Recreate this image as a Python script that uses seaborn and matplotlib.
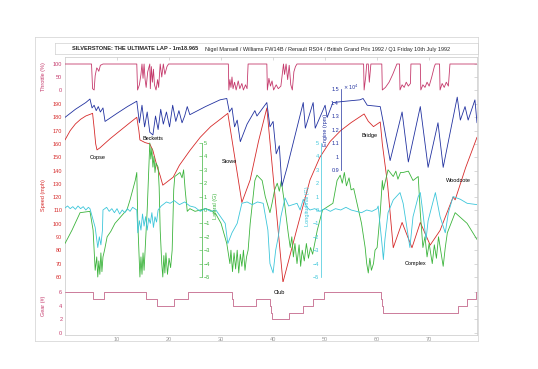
import matplotlib
matplotlib.use("Agg")
import matplotlib.pyplot as plt
import seaborn as sns
import numpy as np

sns.set_style("white")
plt.rcParams['font.family'] = ['Liberation Sans', 'DejaVu Sans']

# ---------------- data (time in s) ----------------
thr_t = [0, 5.1, 5.3, 5.6, 5.8, 6.1, 6.3, 6.5, 6.8, 7.3,
         13.8, 13.95, 14.3, 14.6, 14.8, 15.0, 15.2, 15.4, 15.6, 15.9, 16.3, 16.4, 16.6, 16.8, 17.0, 17.2,
         17.5, 17.8, 18.0, 18.3, 18.6, 18.9, 19.2, 19.6, 19.9,
         31.4, 31.5, 31.7, 31.9, 32.1, 32.3, 32.6, 32.9, 33.3, 33.6, 34.0, 34.3, 34.7, 35.0, 35.2,
         38.8, 38.9, 39.2, 39.5, 39.8, 40.1, 40.6, 41.0, 41.5, 42.0, 42.2, 42.5, 42.8, 43.1, 43.4, 43.7,
         44.0, 44.3, 44.6,
         57.4, 57.5, 57.8, 58.0, 58.3, 58.5, 58.8, 60.9, 61.0, 61.6, 62.3, 63.0, 63.8, 64.3, 64.4, 64.8,
         65.2, 65.6, 66.0, 66.4, 66.5, 68.3, 68.4, 68.8, 69.2, 69.6, 70.0, 70.5, 71.0, 71.2, 72.0, 72.1,
         72.5, 72.9, 73.3, 73.7, 74.0, 79.2]
thr_v = [100, 100, 5, 0, 55, 85, 80, 72, 95, 100,
         100, 0, 20, 60, 100, 45, 100, 40, 10, 70, 100, 5, 90, 30, 80, 20,
         0, 40, 10, 100, 50, 100, 60, 90, 100,
         100, 0, 40, 10, 50, 5, 30, 0, 35, 5, 25, 0, 20, 5, 100,
         100, 0, 45, 15, 35, 0, 20, 5, 15, 100, 60, 100, 40, 95, 20, 0,
         70, 90, 100,
         100, 0, 50, 100, 100, 30, 100, 100, 0, 10, 30, 60, 100, 100, 0, 20,
         10, 30, 15, 25, 100, 100, 0, 20, 10, 30, 15, 50, 90, 100, 100, 0,
         25, 10, 30, 15, 100, 100]

spd_t = [0, 1, 2, 3, 4, 5.0, 5.3, 5.6, 5.9, 6.15, 6.7, 7.7, 8.7, 10.6, 12.5, 13.8,
         14.2, 14.4, 15.4, 16.3, 16.9, 17.7, 18.3, 18.8, 19.8, 20.8, 22.0, 24.0, 26.0, 28.0, 30.0, 31.3,
         34.0, 35.6, 37.2, 38.8, 41.9, 44.5, 47.1, 49.0, 51.0, 53.0, 55.0, 57.5, 58.3, 59.3, 60.6,
         61.0, 62.0, 63.1, 64.8, 66.7, 68.3, 70.2, 72.1, 74.6, 75.0, 77.0, 79.2]
spd_v = [163, 170, 175, 178.5, 181, 182.5, 183, 172, 160, 155.5, 157, 160.5, 164, 170, 176, 180,
         170, 163, 161, 160, 155, 143, 136, 129, 132, 135, 144, 155, 165, 173, 179, 183,
         116, 133, 162, 187, 56, 95, 133, 150, 162, 170, 176, 182.5, 177, 173, 176.5,
         160, 130, 82, 101, 82, 101, 84, 95, 120, 118, 142, 165]

rpm_t = [0, 2, 4, 4.8, 5.2, 5.6, 6.0, 6.4, 6.8, 7.3, 7.7, 10, 12, 13.8,
         14.3, 14.8, 15.3, 15.8, 16.3, 16.9, 17.4, 17.9, 18.4, 18.9, 19.5, 20.1, 20.7, 21.3, 21.9, 22.5,
         23.0, 23.5, 24.0, 27, 29.8, 31.1,
         31.6, 32.1, 32.6, 33.1, 33.7, 35.0, 36.5, 36.9, 38.8, 39.4, 40.0, 40.6, 41.2, 41.7, 42.7,
         45.8, 46.2, 47.7, 48.1, 50.0, 50.4, 51.5, 54, 56.7, 57.3, 58.1, 60.6, 61.2, 62.5, 64.8, 66.0,
         68.3, 69.8, 71.7, 72.7, 75.4, 76.0, 76.9, 77.5, 78.8, 79.2]
rpm_v = [1.29, 1.35, 1.40, 1.426, 1.36, 1.38, 1.34, 1.37, 1.33, 1.36, 1.26, 1.32, 1.37, 1.41,
         1.25, 1.38, 1.22, 1.33, 1.18, 1.16, 1.30, 1.20, 1.35, 1.24, 1.33, 1.22, 1.38, 1.26, 1.34, 1.25,
         1.30, 1.37, 1.31, 1.37, 1.42, 1.43,
         1.33, 1.36, 1.22, 1.27, 1.11, 1.24, 1.34, 1.30, 1.40, 1.22, 1.26, 1.02, 1.08, 0.78, 0.92,
         1.40, 1.21, 1.40, 1.21, 1.38, 1.29, 1.40, 1.41, 1.42, 1.43, 1.38, 1.37, 1.25, 0.97, 1.33, 0.96,
         1.37, 0.92, 1.25, 0.92, 1.44, 1.27, 1.37, 1.27, 1.42, 1.25]

gear_t = [0, 5.4, 7.5, 15.6, 17.7, 21.0, 23.7, 32.1, 32.3, 36.7, 39.4, 39.6, 39.8, 40.0, 43.0,
          45.8, 47.7, 49.8, 60.8, 61.0, 61.2, 75.6, 77.3, 79.1, 79.2]
gear_v = [6, 5, 6, 5, 4, 5, 6, 5, 4, 5, 4, 3, 2, 2, 3,
          4, 5, 6, 5, 4, 3, 4, 5, 6, 6]

lat_t = [0, 1.35, 2.9, 4.8, 5.4, 5.8, 6.1, 6.3, 6.5, 6.7, 6.9, 7.1, 7.3, 7.6, 8.1, 8.8, 9.6, 10.5, 11.4,
         11.9, 12.5, 13.5, 13.8, 14.0, 14.4, 14.6, 14.8, 15.0, 15.2, 15.8, 16.3, 16.5, 16.7, 16.9, 17.1,
         17.3, 17.5, 17.9, 18.1, 18.3, 18.6, 18.8, 19.0, 19.2, 19.4, 19.7, 20.0, 20.3, 20.6, 20.9, 21.1,
         22.1, 22.5, 22.8, 23.1, 23.5, 24, 25, 26, 27, 27.9, 29, 30, 31.1, 31.7, 31.9, 32.2, 32.5, 32.8,
         33.1, 33.4, 33.7, 34.0, 34.3, 34.6, 34.9, 35.2, 35.6, 36.5, 36.9, 37.9, 38.5, 39.4, 39.8, 40.3,
         40.8, 41.2, 41.6, 41.9, 42.2, 42.9, 43.3, 43.6, 43.9, 44.2, 44.6, 45.0, 45.3, 45.6, 46.0, 46.4,
         46.8, 47.2, 47.6, 48.5, 49.5, 51.5, 52.3, 52.9, 53.3, 53.7, 54.1, 54.6, 55.0, 55.5, 56.3, 57.0,
         57.7, 58.0, 58.3, 58.6, 58.9, 59.3, 59.6, 60.0, 60.6, 61.0, 61.2, 62.1, 63.1, 63.6, 64.0, 64.5,
         65.0, 66.0, 66.9, 67.9, 68.3, 68.8, 69.2, 69.6, 70.0, 70.2, 70.6, 71.0, 71.4, 71.8, 72.2, 72.7,
         73.1, 73.5, 75.0, 77.3, 79.2]
lat_v = [-2.5, -1.5, -0.2, -0.1, -1.5, -4.5, -3.5, -5.0, -3.8, -4.8, -3.2, -4.6, -3.5, -3.0, -2.0, -1.6,
         -1.0, -0.6, -0.2, 0.0, 0.75, 2.2, 2.8, -1.0, -5.0, -3.5, -4.8, -3.2, -4.5, 0.0, 5.0, 3.8, 4.6,
         3.2, 4.0, 2.8, 3.5, 3.2, 1.7, -1.5, -4.0, -5.0, -3.4, -4.7, -3.2, -4.8, -3.6, -4.3, -3.0, 1.5,
         2.5, 2.8, 2.4, 3.0, 1.5, -0.1, 0.1, -0.1, 0.0, 0.1, 0.0, -0.3, -1.0, -2.5, -4.0, -3.0, -4.6,
         -3.2, -4.4, -3.0, -4.7, -3.3, -4.2, -3.0, -4.5, -3.5, -3.0, -1.0, 2.2, 2.6, 2.2, 1.0, -0.2, 0.5,
         1.5, 2.0, 1.4, 2.2, 1.3, 0.5, -1.7, -2.8, -2.0, -3.5, -2.5, -4.0, -2.6, -4.2, -3.0, -3.8, -2.5,
         -3.6, -2.8, -3.3, -1.5, 0.0, 0.5, 2.2, 2.6, 2.0, 2.8, 1.8, 2.4, 1.5, 1.6, 0.2, -1.0, -2.8, -4.0,
         -4.7, -3.6, -4.5, -4.0, -3.0, -2.8, -0.2, 2.2, 1.5, 3.0, 2.5, 2.9, 2.3, 2.8, 2.8, 2.9, 2.2, 2.5,
         -0.2, -2.8, -2.0, -3.5, -2.5, -3.0, -4.0, -2.6, -3.6, -2.0, -3.0, -4.2, -2.8, -1.7, -0.2, -1.0,
         -2.2]

lon_t = [0, 0.5, 1, 1.5, 2, 2.5, 3, 3.5, 4, 4.5, 4.8, 5.8, 6.3, 6.6, 6.9, 7.2, 7.3, 8, 8.5, 9, 9.5, 10,
         10.5, 11, 11.5, 12, 12.5, 13, 13.8, 14.0, 14.3, 14.6, 14.9, 15.2, 15.5, 15.8, 16.1, 16.4, 16.7,
         17.0, 17.3, 17.6, 17.9, 18.5, 19.5, 20.2, 21, 22, 23, 24, 25, 26, 27, 28, 29, 30.8, 31.3, 32.1,
         33.1, 34.0, 35.0, 36, 37, 38.1, 39.0, 39.4, 40.0, 40.5, 41.0, 41.5, 42.3, 43, 44.6, 45.2, 45.8,
         46.5, 47.1, 48, 49, 50, 51, 52, 53, 54, 55, 56, 57, 58, 59, 60, 60.2, 61.0, 61.2, 61.5, 62.1,
         63.1, 64.4, 65.0, 65.6, 66.3, 66.9, 67.9, 68.3, 68.8, 69.4, 69.8, 71.2, 72.1, 73.1, 73.7, 74.6,
         76.0, 77.3, 79.2]
lon_v = [0.15, 0.3, 0.1, 0.25, 0.05, 0.3, 0.1, 0.25, 0.0, 0.2, 0.1, -1.3, -2.8, -2.0, -2.6, -1.5, 0.0,
         0.2, -0.1, 0.1, -0.2, 0.1, -0.3, 0.0, -0.2, 0.1, -0.1, 0.2, 0.0, -1.7, -0.8, -1.5, -0.3, -1.2,
         -0.5, -1.5, -0.6, -1.0, -0.2, -1.3, -0.5, -0.9, 0.0, 0.3, 0.6, 0.5, 0.7, 0.4, 0.6, 0.3, 0.2,
         -0.1, 0.1, -0.1, 0.0, -1.0, -2.5, -1.7, -1.0, 0.5, 0.6, 0.4, 0.6, 0.5, -1.5, -4.0, -4.7, -3.0,
         -2.0, -0.5, 0.9, 0.3, 0.5, 0.0, 0.8, 0.2, 0.0, 0.1, -0.1, 0.1, -0.1, 0.1, 0.0, 0.2, 0.0, -0.1,
         -0.2, 0.0, -0.1, 0.1, 0.3, -2.8, -3.7, -2.2, -0.2, 0.75, 1.3, 0.5, -1.0, -2.8, -0.5, 1.0, 1.3,
         -0.2, -2.2, -0.8, 1.3, -0.5, -1.7, -0.2, 1.0, 0.8, 0.5, 0.4]

corner_names = ["Copse", "Becketts", "Stowe", "Club", "Bridge", "Woodcote", "Complex"]
corner_px = [(98, 157), (153, 139), (229, 161), (279, 292), (369, 135), (458, 181), (416, 264)]

xticks = [10, 20, 30, 40, 50, 60, 70]
title_left = "SILVERSTONE: THE ULTIMATE LAP - 1m18.965"
title_right = "Nigel Mansell / Williams FW14B / Renault RS04 / British Grand Prix 1992 / Q1 Friday 10th July 1992"

# ---------------- layout helpers ----------------
W, H = 538, 369
fig = plt.figure(figsize=(W / 100, H / 100), dpi=100)
fig.patch.set_facecolor('white')

def rect(x0, y0, x1, y1):
    return [x0 / W, 1 - y1 / H, (x1 - x0) / W, (y1 - y0) / H]

X0, X1 = 65, 477
XMAX = 79.2
def t_of(px):
    return (px - X0) / (X1 - X0) * XMAX

C_THR = '#c53a6c'
C_GEAR = '#c4668a'
C_SPD = '#d62a2a'
C_RPM = '#2232a0'
C_LAT = '#3cb43c'
C_LON = '#3cc6da'
FS = 4.0
LW = 0.6

# outer light frame
frame = fig.add_axes(rect(35, 37, 478, 341))
frame.set_xticks([]); frame.set_yticks([])
frame.patch.set_alpha(0)
for s in frame.spines.values():
    s.set_color('#d8d8d8'); s.set_linewidth(0.6)

# title box
tbox = fig.add_axes(rect(55, 43, 478, 54))
tbox.set_xticks([]); tbox.set_yticks([])
tbox.patch.set_alpha(0)
for s in tbox.spines.values():
    s.set_color('#d0d0d0'); s.set_linewidth(0.5)
fig.text(72 / W, 1 - 49 / H, title_left, fontsize=4.1, fontweight='bold', va='center', ha='left')
fig.text(205 / W, 1 - 49 / H, title_right, fontsize=4.0, va='center', ha='left')

# base axes with x ticks
base = fig.add_axes(rect(X0, 57, X1, 335))
base.set_xlim(0, XMAX)
base.set_ylim(0, 1)
base.set_yticks([])
base.set_xticks(xticks)
base.tick_params(axis='x', direction='in', length=2, width=0.4, labelsize=FS, labelcolor='#9a9a9a',
                 color='#bbbbbb', top=True, pad=1.5)
for s in base.spines.values():
    s.set_color('#c8c8c8'); s.set_linewidth(0.5)
base.patch.set_facecolor('white')

def overlay(y0, y1, ylim):
    ax = fig.add_axes(rect(X0, y0, X1, y1))
    ax.set_xlim(0, XMAX)
    ax.set_ylim(*ylim)
    ax.patch.set_alpha(0)
    for s in ax.spines.values():
        s.set_visible(False)
    ax.set_xticks([])
    ax.set_xlabel(''); ax.set_ylabel('')
    return ax

def line(ax, t, v, color, **kw):
    sns.lineplot(x=t, y=v, ax=ax, color=color, linewidth=LW, estimator=None, sort=False, **kw)
    ax.set_xlabel(''); ax.set_ylabel('')
    ax.set_xlim(0, XMAX)

# gear
ax_g = overlay(285, 335, (-0.29, 7.03))
line(ax_g, gear_t, gear_v, C_GEAR, drawstyle='steps-post')
ax_g.set_yticks([0, 2, 4, 6])
ax_g.tick_params(axis='y', direction='in', length=2, width=0.4, labelsize=FS, labelcolor=C_THR,
                 color='#bbbbbb', right=True, pad=2)

# throttle
ax_t = overlay(62, 92, (-7.7, 107.7))
line(ax_t, thr_t, thr_v, C_THR)
ax_t.set_yticks([0, 50, 100])
ax_t.tick_params(axis='y', direction='in', length=2, width=0.4, labelsize=FS, labelcolor=C_THR,
                 color='#bbbbbb', right=True, pad=2)

# speed
ax_s = overlay(97, 282, (56.25, 195.25))
line(ax_s, spd_t, spd_v, C_SPD)
ax_s.set_yticks(list(range(60, 191, 10)))
ax_s.tick_params(axis='y', direction='in', length=2, width=0.4, labelsize=FS, labelcolor=C_SPD,
                 color='#bbbbbb', right=True, pad=2)

# lateral G (green), axis at x=202 px with labels on right
ax_lat = overlay(130, 290, (-5.97, 5.97))
line(ax_lat, lat_t, lat_v, C_LAT)
ax_lat.yaxis.tick_right()
ax_lat.spines['right'].set_visible(True)
ax_lat.spines['right'].set_position(('data', t_of(202)))
ax_lat.spines['right'].set_bounds(-5, 5)
ax_lat.spines['right'].set_color(C_LAT)
ax_lat.spines['right'].set_linewidth(0.5)
ax_lat.set_yticks(list(range(-5, 6)))
ax_lat.tick_params(axis='y', direction='in', length=2, width=0.4, labelsize=FS, labelcolor=C_LAT,
                   color=C_LAT, pad=1.5)

# longitudinal G (cyan), axis at x=321 px with labels on left
ax_lon = overlay(130, 290, (-5.97, 5.97))
line(ax_lon, lon_t, lon_v, C_LON)
ax_lon.spines['left'].set_visible(True)
ax_lon.spines['left'].set_position(('data', t_of(321)))
ax_lon.spines['left'].set_bounds(-5, 5)
ax_lon.spines['left'].set_color(C_LON)
ax_lon.spines['left'].set_linewidth(0.5)
ax_lon.set_yticks(list(range(-5, 6)))
ax_lon.tick_params(axis='y', direction='in', length=2, width=0.4, labelsize=FS, labelcolor=C_LON,
                   color=C_LON, pad=1.5)

# engine rpm (blue), axis at x=341 px
ax_r = overlay(75, 200, (0.678, 1.604))
line(ax_r, rpm_t, rpm_v, C_RPM)
ax_r.spines['left'].set_visible(True)
ax_r.spines['left'].set_position(('data', t_of(341)))
ax_r.spines['left'].set_bounds(0.9, 1.5)
ax_r.spines['left'].set_color(C_RPM)
ax_r.spines['left'].set_linewidth(0.5)
rt = [0.9, 1.0, 1.1, 1.2, 1.3, 1.4, 1.5]
ax_r.set_yticks(rt)
ax_r.set_yticklabels(['0.9', '1', '1.1', '1.2', '1.3', '1.4', '1.5'])
ax_r.tick_params(axis='y', direction='in', length=2, width=0.4, labelsize=FS, labelcolor=C_RPM,
                 color=C_RPM, pad=1.5)

# axis labels
def ylab(px, py, s, c):
    fig.text(px / W, 1 - py / H, s, rotation=90, fontsize=FS, color=c, ha='center', va='center')

ylab(43, 77, 'Throttle (%)', C_THR)
ylab(43, 195, 'Speed (mph)', C_SPD)
ylab(43, 306, 'Gear (#)', C_THR)
ylab(215, 206, 'Lateral (G)', C_LAT)
ylab(308, 206, 'Longitudinal (G)', C_LON)
ylab(326, 130, 'Engine (rpm)', C_RPM)
fig.text(343 / W, 1 - 87 / H, r'$\times\,10^{4}$', fontsize=3.6, color=C_RPM, ha='left', va='center')

for name, (px, py) in zip(corner_names, corner_px):
    fig.text(px / W, 1 - py / H, name, fontsize=FS, color='black', ha='center', va='center')

fig.savefig('out.png', dpi=100)
